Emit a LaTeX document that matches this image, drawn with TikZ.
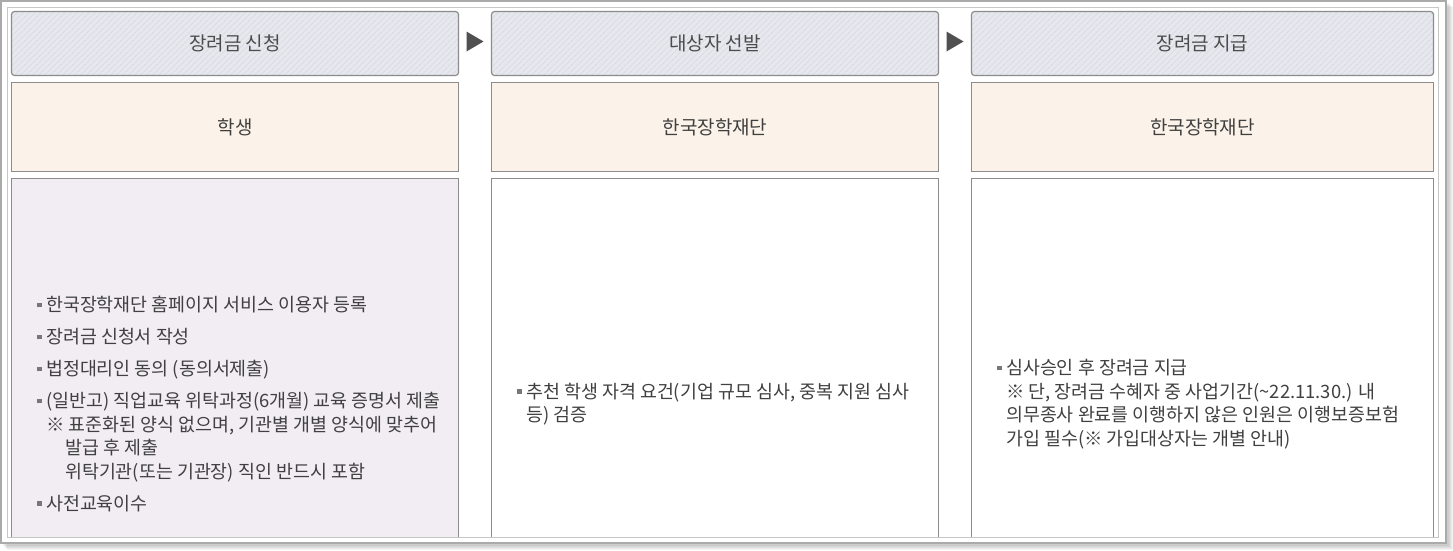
\documentclass[tikz,border=0pt]{standalone}
\usepackage{fontspec}
\setmainfont{Noto Sans CJK KR}
\usetikzlibrary{positioning,calc,patterns.meta}

\definecolor{framegray}{HTML}{AAAAAA}
\definecolor{innergray}{HTML}{C6C6C6}
\definecolor{boxline}{HTML}{8C8C8C}
\definecolor{headfill}{HTML}{E6E8EE}
\definecolor{headstripe}{HTML}{D8DBE3}
\definecolor{rolefill}{HTML}{FBF3E9}
\definecolor{applyfill}{HTML}{F1EDF3}
\definecolor{headtxt}{HTML}{4C4C4C}
\definecolor{txt}{HTML}{404040}
\definecolor{bltgray}{HTML}{777777}
\definecolor{tipgray}{HTML}{505050}

\newcommand{\blt}{\llap{\textcolor{bltgray}{\rule[4.4pt]{4.5pt}{4.5pt}}\hspace{4.5pt}}}

\tikzset{
  stage/.style={draw=boxline, line width=1.2pt, outer sep=0pt, rounded corners=3pt,
    preaction={fill=headfill}, pattern={Lines[angle=45,distance=4pt,line width=1pt]},
    pattern color=headstripe, minimum height=64pt, text=headtxt,
    font=\fontsize{19}{22}\selectfont},
  actor/.style={draw=boxline, line width=1.2pt, outer sep=0pt, fill=rolefill,
    minimum height=89pt, text=txt, font=\fontsize{19}{22}\selectfont},
  cell/.style={draw=boxline, line width=1.2pt, outer sep=0pt, minimum height=451pt},
  bodytext/.style={anchor=west, inner sep=0pt, align=left, text=txt,
    font=\fontsize{18.4}{23.5}\selectfont},
}

\begin{document}
\begin{tikzpicture}[x=1pt,y=-1pt]
\useasboundingbox (0,0) rectangle (1453,550);
% shadow and outer frame
\foreach \d in {3,...,7}
  \fill[black,opacity=0.045] (\d,\d) rectangle (1446+\d,543+\d);
\fill[white] (1,1) rectangle (1446,543);
\draw[framegray,line width=1.8pt] (1,1) rectangle (1446,543);

% stages
\node[stage, minimum width=447pt, anchor=north west] (hd1) at (11.5,11.5) {장려금 신청};
\node[stage, minimum width=447pt, right=33pt of hd1] (hd2) {대상자 선발};
\node[stage, minimum width=462pt, right=33pt of hd2] (hd3) {장려금 지급};

% arrows between the stages
\coordinate (m1) at ($(hd1.east)!0.5!(hd2.west)+(0,-2)$);
\coordinate (m2) at ($(hd2.east)!0.5!(hd3.west)+(0,-2)$);
\fill[tipgray] ([xshift=-8.5pt,yshift=10pt]m1) -- ([xshift=8.5pt]m1) -- ([xshift=-8.5pt,yshift=-10pt]m1) -- cycle;
\fill[tipgray] ([xshift=-8.5pt,yshift=10pt]m2) -- ([xshift=8.5pt]m2) -- ([xshift=-8.5pt,yshift=-10pt]m2) -- cycle;

% who
\node[actor, minimum width=447pt, below=7pt of hd1] (who1) {학생};
\node[actor, minimum width=447pt, below=7pt of hd2] (who2) {한국장학재단};
\node[actor, minimum width=462pt, below=7pt of hd3] (who3) {한국장학재단};

% what (cut off by the inner frame)
\begin{scope}
\clip (0,0) rectangle (1453,537);
\node[cell, fill=applyfill, minimum width=447pt, below=7pt of who1] (c1) {};
\node[cell, fill=white, minimum width=447pt, below=7pt of who2] (c2) {};
\node[cell, fill=white, minimum width=462pt, below=7pt of who3] (c3) {};
\end{scope}
\draw[innergray,line width=1pt] (7,7) rectangle (1438.5,537);

\node[bodytext] (t1) at ([xshift=34.5pt]c1.west) {\blt 한국장학재단 홈페이지 서비스 이용자 등록\\[8.5pt]
  \blt 장려금 신청서 작성\\[8.5pt]
  \blt 법정대리인 동의 (동의서제출)\\[8.5pt]
  \blt (일반고) 직업교육 위탁과정(6개월) 교육 증명서 제출\\
  ※ 표준화된 양식 없으며, 기관별 개별 양식에 맞추어\\
  \hspace*{19pt}발급 후 제출\\
  \hspace*{19pt}위탁기관(또는 기관장) 직인 반드시 포함\\[8.5pt]
  \blt 사전교육이수};
\node[bodytext] (t2) at ([xshift=34.5pt]c2.west) {\blt 추천 학생 자격 요건(기업 규모 심사, 중복 지원 심사\\
  등) 검증};
\node[bodytext] (t3) at ([xshift=34.5pt]c3.west) {\blt 심사승인 후 장려금 지급\\
  ※ 단, 장려금 수혜자 중 사업기간(\textasciitilde22.11.30.) 내\\
  의무종사 완료를 이행하지 않은 인원은 이행보증보험\\
  가입 필수(※ 가입대상자는 개별 안내)};
\end{tikzpicture}
\end{document}
